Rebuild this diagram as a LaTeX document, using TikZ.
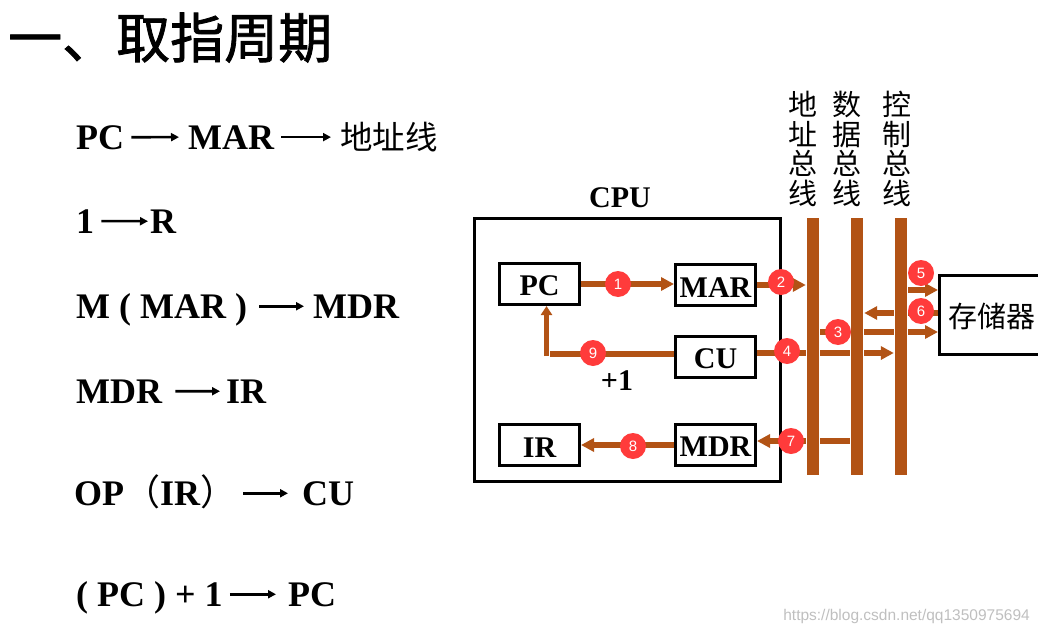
\documentclass[tikz,border=0pt]{standalone}
\usepackage{fontspec}
\setmainfont{Liberation Serif}
\newfontfamily\cjk{Noto Sans CJK SC}
\newfontfamily\cjktitle[FakeBold=1.5]{Noto Sans CJK SC}
\newfontfamily\badgefont{Liberation Sans}
\usetikzlibrary{arrows.meta}
\definecolor{bus_brown}{HTML}{B25315}
\definecolor{badge_red}{HTML}{FF3B3B}
\begin{document}
\begin{tikzpicture}[x=1pt, y=-1pt]
  \tikzset{
    formula/.style={anchor=base west, inner sep=0, font=\fontsize{36}{36}\selectfont\bfseries},
    thin_arrow/.style={line width=2.6pt, -{Triangle[length=8pt,width=8pt]}, shorten <=7pt, shorten >=9pt},
    reg_box/.style={draw, line width=3pt, fill=white, minimum width=80pt, minimum height=41pt, inner sep=0,
      text height=24pt, font=\fontsize{30}{30}\selectfont\bfseries},
    bus_bar/.style={fill=bus_brown, minimum width=12pt, minimum height=257pt, inner sep=0},
    bus_line/.style={draw=bus_brown, line width=6pt, shorten <=1pt, shorten >=1pt},
    bus_arrow/.style={bus_line, -{Triangle[length=13pt,width=13pt]}},
    bus_label/.style={align=center, inner sep=0, font=\fontsize{29}{29.5}\selectfont\cjk},
    badge/.style={circle, fill=badge_red, minimum size=26pt, inner sep=0, text=white,
      font=\fontsize{15}{15}\selectfont\badgefont},
  }
  \useasboundingbox (0,0) rectangle (1038,634);

  % title
  \node[anchor=base west, inner sep=0, font=\fontsize{54}{54}\selectfont\cjktitle] (title) at (8,58) {一、取指周期};

  % micro-operations
  \node[formula] (l1_pc) at (76,149) {PC};
  \node[formula] (l1_mar) at (188,149) {MAR};
  \node[formula, font=\fontsize{32.5}{33}\selectfont\cjk] (l1_addr) at (340,149) {地址线};
  \draw[thin_arrow] (l1_pc.east) -- (l1_mar.west);
  \draw[thin_arrow] (l1_mar.east) -- (l1_mar.east -| l1_addr.west);

  \node[formula] (l2_one) at (76,233) {1};
  \node[formula] (l2_r) at (150,233) {R};
  \draw[thin_arrow, shorten >=2pt] (l2_one.east) -- (l2_r.west);

  \node[formula] (l3_m) at (76,318) {M ( MAR )};
  \node[formula] (l3_mdr) at (313,318) {MDR};
  \draw[thin_arrow, shorten <=12pt] (l3_m.east |- l3_mdr.west) -- (l3_mdr.west);

  \node[formula] (l4_mdr) at (76,403) {MDR};
  \node[formula] (l4_ir) at (226,403) {IR};
  \draw[thin_arrow, shorten <=13pt, shorten >=6pt] (l4_mdr.east) -- (l4_ir.west);

  \node[formula] (l5_op) at (74,505) {OP{\cjk\mdseries（}IR{\cjk\mdseries）}};
  \node[formula] (l5_cu) at (302,505) {CU};
  \draw[thin_arrow, shorten >=14pt] (l5_op.east |- l5_cu.west) -- (l5_cu.west);

  \node[formula] (l6_pc) at (76,606) {( PC ) + 1};
  \node[formula] (l6_pc2) at (288,606) {PC};
  \draw[thin_arrow, shorten >=12pt] (l6_pc.east |- l6_pc2.west) -- (l6_pc2.west);

  % buses
  \node[bus_bar] (addr_bus) at (813,346.5) {};
  \node[bus_bar] (data_bus) at (857,346.5) {};
  \node[bus_bar] (ctrl_bus) at (901,346.5) {};
  \node[bus_label] (addr_label) at (803,149) {地\\址\\总\\线};
  \node[bus_label] (data_label) at (847,149) {数\\据\\总\\线};
  \node[bus_label] (ctrl_label) at (897,149) {控\\制\\总\\线};

  % cpu
  \node[draw, line width=3pt, minimum width=306pt, minimum height=263pt, inner sep=0] (cpu) at (627.5,350) {};
  \node[inner sep=0, font=\fontsize{30}{30}\selectfont\bfseries] (cpu_label) at (620,198) {CPU};
  \node[reg_box] (pc) at (539.5,284) {PC};
  \node[reg_box] (mar) at (715.5,285) {MAR};
  \node[reg_box] (cu) at (715.5,357) {CU};
  \node[reg_box] (mdr) at (715.5,445) {MDR};
  \node[reg_box] (ir) at (539.5,445) {IR};
  \node[inner sep=0, font=\fontsize{30}{30}\selectfont\bfseries] (plus_one) at (617,381) {+1};

  % memory, its right side is cut off by the page
  \node[draw, line width=3pt, minimum width=110pt, minimum height=79pt, inner sep=0] (mem) at (994,315) {};
  \node[inner sep=0, font=\fontsize{29}{29}\selectfont\cjk] (mem_label) at (992,316) {存储器};

  % characteristic coordinates of the transfers
  \coordinate (c3) at (938,332);
  \coordinate (c4) at (757,353);
  \coordinate (c5) at (938,290);
  \coordinate (c6) at (938,313);
  \coordinate (c7) at (757,441);
  \coordinate (c9) at (674,354);
  \coordinate (c9_end) at (550,354);
  \coordinate (c9_up) at (546.5,356);

  % transfers
  \draw[bus_arrow, shorten <=0pt, shorten >=0pt] (pc.east) -- (pc.east -| mar.west);
  \draw[bus_arrow, shorten <=0pt] (mar.east) -- (addr_bus.west |- mar.east);

  \draw[bus_line] (addr_bus.east |- c3) -- (data_bus.west |- c3);
  \draw[bus_line] (data_bus.east |- c3) -- (ctrl_bus.west |- c3);
  \draw[bus_arrow, shorten >=0pt] (ctrl_bus.east |- c3) -- (c3);

  \draw[bus_line, shorten <=0pt] (c4) -- (addr_bus.west |- c4);
  \draw[bus_line] (addr_bus.east |- c4) -- (data_bus.west |- c4);
  \draw[bus_arrow] (data_bus.east |- c4) -- (ctrl_bus.west |- c4);

  \draw[bus_arrow, shorten >=0pt] (ctrl_bus.east |- c5) -- (c5);

  \draw[bus_line, shorten <=0pt] (c6) -- (ctrl_bus.east |- c6);
  \draw[bus_arrow] (ctrl_bus.west |- c6) -- (data_bus.east |- c6);

  \draw[bus_line] (data_bus.west |- c7) -- (addr_bus.east |- c7);
  \draw[bus_arrow, shorten >=0pt] (addr_bus.west |- c7) -- (c7);

  \draw[bus_arrow, shorten <=0pt, shorten >=0pt] (mdr.west) -- (ir.east);

  \draw[bus_line, shorten <=0pt, shorten >=0pt] (c9) -- (c9_end);
  \draw[bus_arrow, line width=5pt, -{Triangle[length=9pt,width=11pt]}, shorten <=0pt, shorten >=0pt] (c9_up) -- (c9_up |- pc.south);

  % numbered steps
  \node[badge] (n1) at (618,284) {1};
  \node[badge] (n2) at (781,282) {2};
  \node[badge] (n3) at (838,332) {3};
  \node[badge] (n4) at (787,351) {4};
  \node[badge] (n5) at (921,273) {5};
  \node[badge] (n6) at (921,311) {6};
  \node[badge] (n7) at (791,441) {7};
  \node[badge] (n8) at (633,446) {8};
  \node[badge] (n9) at (593,353) {9};

  % watermark
  \node[anchor=east, inner sep=0, text=black!25, font=\fontsize{15.5}{15.5}\selectfont\badgefont] (mark) at (1030,616) {https://blog.csdn.net/qq1350975694};
\end{tikzpicture}
\end{document}
